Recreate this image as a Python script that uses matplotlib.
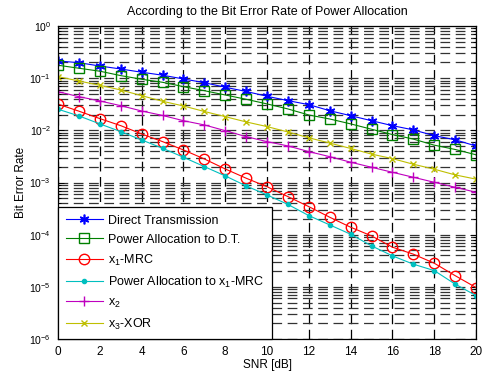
import numpy as np
import matplotlib
matplotlib.use("Agg")
import matplotlib.pyplot as plt
from matplotlib.ticker import LogLocator, NullFormatter

plt.rcParams['font.family'] = ['Liberation Sans', 'DejaVu Sans']
plt.rcParams['mathtext.default'] = 'regular'
plt.rcParams['lines.scale_dashes'] = False

# SNR axis
snr = list(range(0, 21))

# BER values
ber_direct = [0.214, 0.198, 0.171, 0.150, 0.130, 0.114, 0.0966, 0.082, 0.067, 0.0556,
              0.045, 0.0371, 0.0311, 0.0238, 0.0191, 0.0153, 0.0123, 0.0102, 0.0079,
              0.0066, 0.0050]
ber_pa_dt = [0.177, 0.155, 0.136, 0.112, 0.0953, 0.0834, 0.0688, 0.0576, 0.0476, 0.0394,
             0.0321, 0.0257, 0.0197, 0.0165, 0.0133, 0.0105, 0.0083, 0.0068, 0.0052,
             0.0043, 0.0034]
ber_x1_mrc = [0.0318, 0.0233, 0.0168, 0.0123, 0.00853, 0.00608, 0.00421, 0.00283, 0.00182,
              0.00121, 0.00083, 0.000537, 0.000345, 0.000216, 0.000139, 0.0000948,
              0.0000576, 0.0000423, 0.0000284, 0.0000164, 0.0000097]
ber_pa_x1 = [0.0254, 0.0189, 0.0133, 0.00945, 0.00655, 0.00454, 0.00305, 0.00202, 0.00134,
             0.00086, 0.000578, 0.00038, 0.000232, 0.000154, 0.000102, 0.000061,
             0.0000393, 0.0000272, 0.0000205, 0.0000113, 0.0000068]
ber_x2 = [0.0551, 0.0442, 0.0366, 0.0297, 0.0235, 0.0193, 0.0153, 0.0127, 0.00986, 0.00757,
          0.00608, 0.00502, 0.00391, 0.00313, 0.00245, 0.00196, 0.00157, 0.00126, 0.00101,
          0.00081, 0.00065]
ber_x3_xor = [0.107, 0.0883, 0.0731, 0.0594, 0.0462, 0.0361, 0.0293, 0.0230, 0.0183, 0.0145,
              0.0118, 0.0093, 0.0072, 0.0057, 0.0045, 0.0035, 0.00287, 0.00224, 0.0018,
              0.0014, 0.00116]

labels = ["Direct Transmission", "Power Allocation to D.T.", "x$_1$-MRC",
          "Power Allocation to x$_1$-MRC", "x$_2$", "x$_3$-XOR"]

fig = plt.figure(figsize=(4.86, 3.73), dpi=100)
ax = fig.add_axes([58 / 486, 34 / 373, 418 / 486, 313 / 373])

# horizontal grid (major + minor), vertical grid (major only)
ax.set_yscale('log')
ax.set_xticks(range(0, 21, 2))
ax.set_yticks(10.0 ** np.arange(-6, 1))
ax.yaxis.set_minor_locator(LogLocator(base=10, subs=np.arange(2, 10), numticks=10))
ax.yaxis.set_minor_formatter(NullFormatter())
ax.set_xlim(0, 20)
ax.set_ylim(1e-6, 1)
ax.grid(True, axis='y', which='both', color='0.2', linewidth=0.9, linestyle=(0, (7, 4)))
ax.grid(True, axis='x', which='major', color='k', linewidth=0.9, linestyle=(0, (7, 4)))
ax.set_axisbelow(True)

ax.plot(snr, ber_direct, color='b', marker=(6, 2, 0), markersize=7, markeredgewidth=1.2,
        linewidth=0.8, label=labels[0])
ax.plot(snr, ber_pa_dt, color=(0, 0.5, 0), marker='s', markersize=7, markerfacecolor='none',
        linewidth=0.8, label=labels[1])
ax.plot(snr, ber_x1_mrc, color='r', marker='o', markersize=7.5, markerfacecolor='none',
        linewidth=0.8, label=labels[2])
ax.plot(snr, ber_pa_x1, color=(0, 0.75, 0.75), marker='.', markersize=6, linewidth=0.8,
        label=labels[3])
ax.plot(snr, ber_x2, color=(0.75, 0, 0.75), marker='+', markersize=7, linewidth=0.8,
        label=labels[4])
ax.plot(snr, ber_x3_xor, color=(0.75, 0.75, 0), marker='x', markersize=4, linewidth=0.8,
        label=labels[5])

ax.tick_params(which='both', direction='in', top=True, right=True, width=0.7, color='k')
ax.tick_params(axis='x', labelsize=8.5, pad=5)
ax.tick_params(axis='y', labelsize=7.5, pad=5)
ax.tick_params(which='major', length=4)
ax.tick_params(which='minor', length=2)
for s in ax.spines.values():
    s.set_linewidth(0.9)

ax.set_title("According to the Bit Error Rate of Power Allocation", fontsize=9, pad=8)
ax.set_xlabel("SNR [dB]", fontsize=8.5, labelpad=1)
ax.set_ylabel("Bit Error Rate", fontsize=8.5)
ax.yaxis.set_label_coords(-0.074, 0.5)

leg = ax.legend(loc='lower left', bbox_to_anchor=(0, 0), borderaxespad=0, fontsize=9,
                handlelength=3.0, fancybox=False, framealpha=1, edgecolor='k',
                labelspacing=0.55, borderpad=0.6, handletextpad=0.4)
leg.get_frame().set_linewidth(0.9)

fig.savefig("out.png", dpi=100)
